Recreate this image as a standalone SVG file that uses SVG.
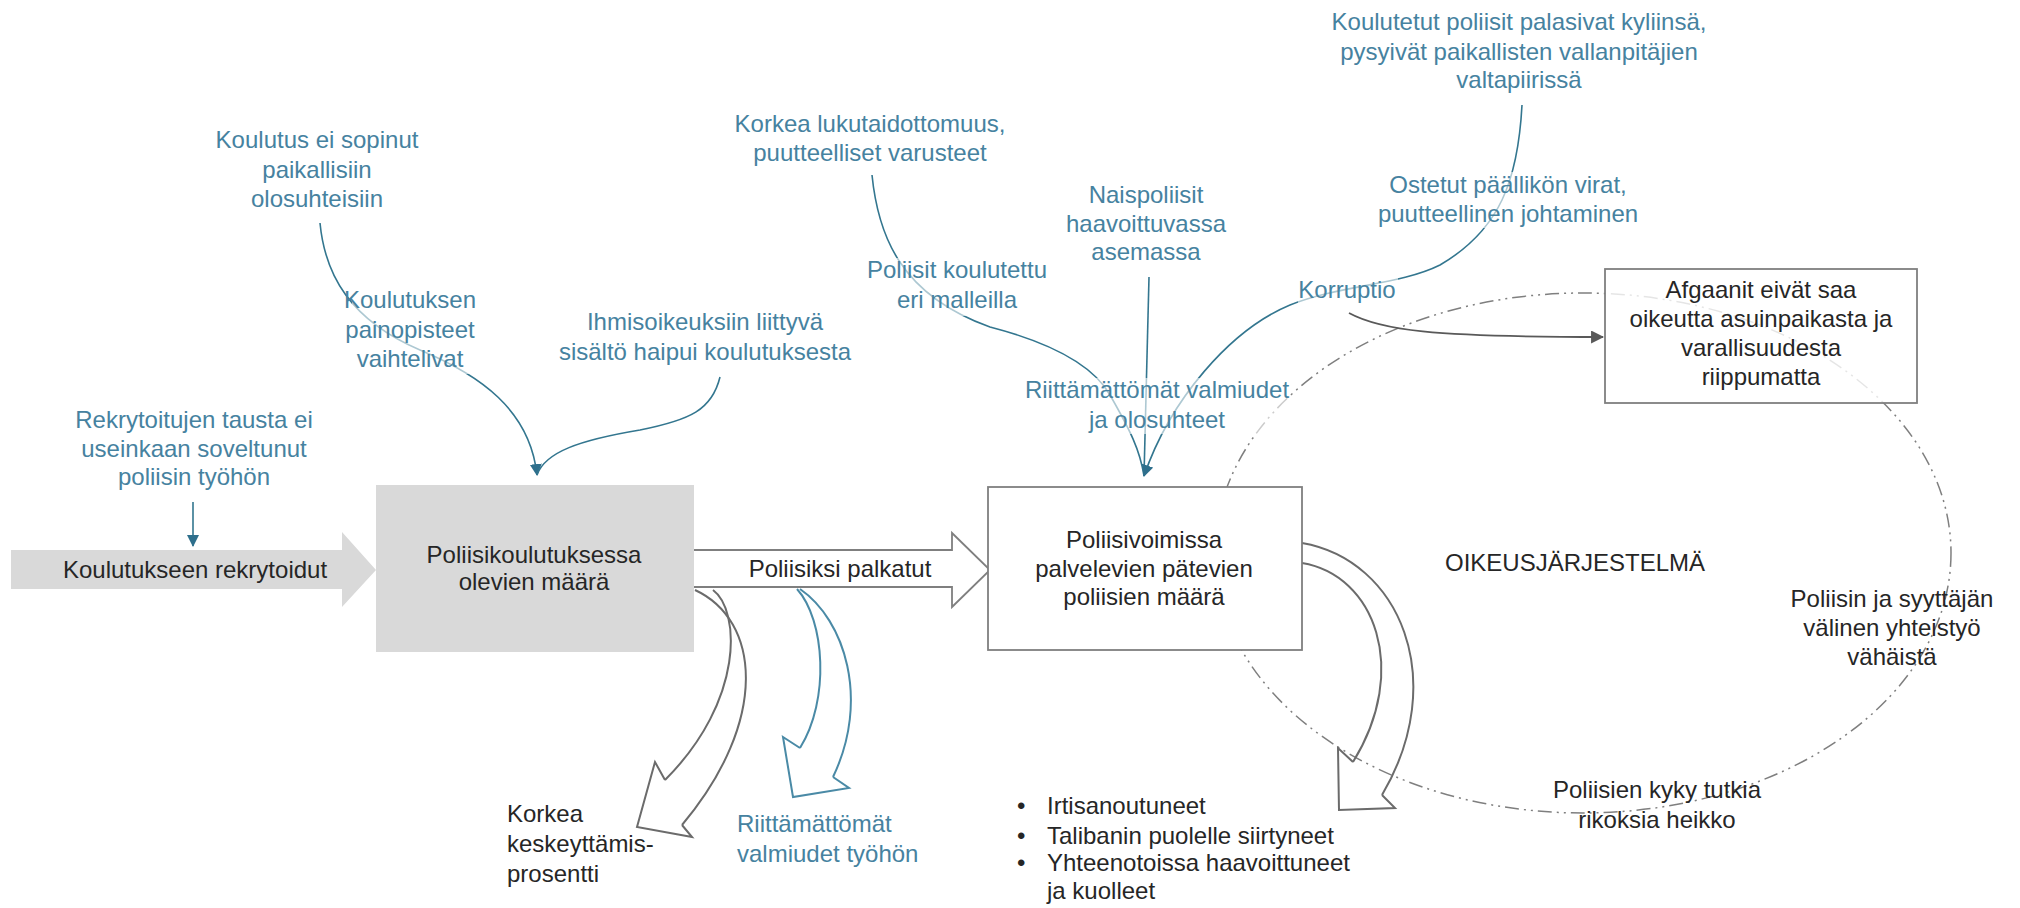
<svg xmlns="http://www.w3.org/2000/svg" width="2020" height="908" viewBox="0 0 2020 908">
  <style>
    text { font-family: "Liberation Sans", Arial, sans-serif; font-size: 24px; }
    .dark { fill: #262626; }
    .teal { fill: #4682a0; }
    .mid { text-anchor: middle; }
    .tline { fill: none; stroke: #33768f; stroke-width: 1.6; }
    .gline { fill: none; stroke: #595959; stroke-width: 1.8; }
    .hollow { fill: none; stroke: #6b6b6b; stroke-width: 2; stroke-linejoin: miter; }
    .hollowT { fill: none; stroke: #4a8aa6; stroke-width: 2; stroke-linejoin: miter; }
    .haze { fill: #ffffff; fill-opacity: 0.6; }
  </style>
  <defs>
    <marker id="tealHead" viewBox="0 0 12 12" refX="11" refY="6" markerWidth="12" markerHeight="12" markerUnits="userSpaceOnUse" orient="auto">
      <path d="M0,0 L12,6 L0,12 Z" fill="#2e6f8c"/>
    </marker>
    <marker id="grayHead" viewBox="0 0 12 12" refX="11" refY="6" markerWidth="13" markerHeight="13" markerUnits="userSpaceOnUse" orient="auto">
      <path d="M0,0 L12,6 L0,12 Z" fill="#595959"/>
    </marker>
  </defs>

  <rect width="2020" height="908" fill="#ffffff"/>

  <!-- justice system boundary -->
  <g id="justice-system">
    <ellipse cx="1583" cy="553" rx="368" ry="260" fill="none" stroke="#7f7f7f" stroke-width="1.5" stroke-dasharray="14 5 2 5 2 5"/>
    <text class="dark" x="1445" y="571">OIKEUSJÄRJESTELMÄ</text>
    <text class="dark mid" x="1892" y="607">Poliisin ja syyttäjän</text>
    <text class="dark mid" x="1892" y="636">välinen yhteistyö</text>
    <text class="dark mid" x="1892" y="665">vähäistä</text>
    <text class="dark mid" x="1657" y="798">Poliisien kyky tutkia</text>
    <text class="dark mid" x="1657" y="828">rikoksia heikko</text>
  </g>

  <!-- connectors -->
  <g id="connectors">
    <path class="tline" d="M320,223 C325,275 350,320 420,350 C480,375 530,410 537,475" marker-end="url(#tealHead)"/>
    <path class="tline" d="M720,377 C712,410 690,420 640,430 C580,440 545,452 537,475"/>
    <path class="tline" d="M193,502 L193,546" marker-end="url(#tealHead)"/>
    <path class="tline" d="M872,175 C878,235 900,295 990,327 C1040,340 1090,360 1110,395 C1130,430 1140,450 1144,476"/>
    <path class="tline" d="M1149,277 L1144,476"/>
    <path class="tline" d="M1522,105 C1518,180 1500,230 1440,265 C1400,285 1340,285 1290,305 C1230,330 1170,400 1144,476" marker-end="url(#tealHead)"/>
    <path class="gline" d="M1349,313 C1380,330 1430,337 1603,337" marker-end="url(#grayHead)"/>

    <!-- hollow outflow arrows -->
    <path class="hollow" d="M695,590 C760,620 770,720 682,825"/>
    <path class="hollow" d="M713,590 C740,610 745,700 665,780"/>
    <path class="hollow" d="M665,780 L655,762 L637,827 L692,837 L682,825"/>

    <path class="hollowT" d="M800,589 C845,620 870,700 833,777"/>
    <path class="hollowT" d="M797,589 C825,620 830,700 800,748"/>
    <path class="hollowT" d="M800,748 L783,737 L793,797 L849,788 L833,777"/>

    <path class="hollow" d="M1302,543 C1400,560 1450,680 1382,795"/>
    <path class="hollow" d="M1302,563 C1375,575 1410,670 1353,762"/>
    <path class="hollow" d="M1353,762 L1338,748 L1339,810 L1395,808 L1382,795"/>
  </g>

  <!-- factor labels -->
  <g id="factor-labels">
    <text class="teal mid" x="317" y="148">Koulutus ei sopinut</text>
    <text class="teal mid" x="317" y="178">paikallisiin</text>
    <text class="teal mid" x="317" y="207">olosuhteisiin</text>

    <rect class="haze" x="352" y="288" width="118" height="86"/>
    <text class="teal mid" x="410" y="308">Koulutuksen</text>
    <text class="teal mid" x="410" y="338">painopisteet</text>
    <text class="teal mid" x="410" y="367">vaihtelivat</text>

    <text class="teal mid" x="705" y="330">Ihmisoikeuksiin liittyvä</text>
    <text class="teal mid" x="705" y="360">sisältö haipui koulutuksesta</text>

    <text class="teal mid" x="194" y="428">Rekrytoitujen tausta ei</text>
    <text class="teal mid" x="194" y="457">useinkaan soveltunut</text>
    <text class="teal mid" x="194" y="485">poliisin työhön</text>

    <text class="teal mid" x="870" y="132">Korkea lukutaidottomuus,</text>
    <text class="teal mid" x="870" y="161">puutteelliset varusteet</text>

    <rect class="haze" x="866" y="258" width="184" height="58"/>
    <text class="teal mid" x="957" y="278">Poliisit koulutettu</text>
    <text class="teal mid" x="957" y="308">eri malleilla</text>

    <text class="teal mid" x="1146" y="203">Naispoliisit</text>
    <text class="teal mid" x="1146" y="232">haavoittuvassa</text>
    <text class="teal mid" x="1146" y="260">asemassa</text>

    <text class="teal mid" x="1519" y="30">Koulutetut poliisit palasivat kyliinsä,</text>
    <text class="teal mid" x="1519" y="60">pysyivät paikallisten vallanpitäjien</text>
    <text class="teal mid" x="1519" y="88">valtapiirissä</text>

    <rect class="haze" x="1376" y="172" width="266" height="56"/>
    <text class="teal mid" x="1508" y="193">Ostetut päällikön virat,</text>
    <text class="teal mid" x="1508" y="222">puutteellinen johtaminen</text>

    <rect class="haze" x="1298" y="278" width="100" height="26"/>
    <text class="teal mid" x="1347" y="298">Korruptio</text>

    <rect class="haze" x="1024" y="378" width="266" height="56"/>
    <text class="teal mid" x="1157" y="398">Riittämättömät valmiudet</text>
    <text class="teal mid" x="1157" y="428">ja olosuhteet</text>

    <text class="teal" x="737" y="832">Riittämättömät</text>
    <text class="teal" x="737" y="862">valmiudet työhön</text>

    <text class="dark" x="507" y="822">Korkea</text>
    <text class="dark" x="507" y="852">keskeyttämis-</text>
    <text class="dark" x="507" y="882">prosentti</text>
  </g>

  <!-- inflow: recruited to training -->
  <g id="recruited-flow">
    <path d="M11,550 L342,550 L342,532 L376,570 L342,607 L342,589 L11,589 Z" fill="#d9d9d9"/>
    <text class="dark mid" x="195" y="578">Koulutukseen rekrytoidut</text>
  </g>

  <!-- flow: hired as police -->
  <g id="hired-flow">
    <path d="M694,550 L952,550 L952,533 L990,570 L952,607 L952,587 L694,587" fill="#ffffff" stroke="#7f7f7f" stroke-width="1.8"/>
    <text class="dark mid" x="840" y="577">Poliisiksi palkatut</text>
  </g>

  <!-- stock: people in police training -->
  <g id="training-stock">
    <rect x="376" y="485" width="318" height="167" fill="#d9d9d9"/>
    <text class="dark mid" x="534" y="563">Poliisikoulutuksessa</text>
    <text class="dark mid" x="534" y="590">olevien määrä</text>
  </g>

  <!-- stock: qualified police in service -->
  <g id="police-stock">
    <rect x="988" y="487" width="314" height="163" fill="#ffffff" stroke="#7f7f7f" stroke-width="1.8"/>
    <text class="dark mid" x="1144" y="548">Poliisivoimissa</text>
    <text class="dark mid" x="1144" y="577">palvelevien pätevien</text>
    <text class="dark mid" x="1144" y="605">poliisien määrä</text>
  </g>

  <!-- outcome: no justice -->
  <g id="no-justice">
    <rect x="1605" y="269" width="312" height="134" fill="#ffffff" fill-opacity="0.8" stroke="#7f7f7f" stroke-width="1.8"/>
    <text class="dark mid" x="1761" y="298">Afgaanit eivät saa</text>
    <text class="dark mid" x="1761" y="327">oikeutta asuinpaikasta ja</text>
    <text class="dark mid" x="1761" y="356">varallisuudesta</text>
    <text class="dark mid" x="1761" y="385">riippumatta</text>
  </g>

  <!-- police outflows -->
  <g id="outflow-list">
    <text class="dark" x="1017" y="814">•</text>
    <text class="dark" x="1047" y="814">Irtisanoutuneet</text>
    <text class="dark" x="1017" y="844">•</text>
    <text class="dark" x="1047" y="844">Talibanin puolelle siirtyneet</text>
    <text class="dark" x="1017" y="871">•</text>
    <text class="dark" x="1047" y="871">Yhteenotoissa haavoittuneet</text>
    <text class="dark" x="1047" y="899">ja kuolleet</text>
  </g>
</svg>
